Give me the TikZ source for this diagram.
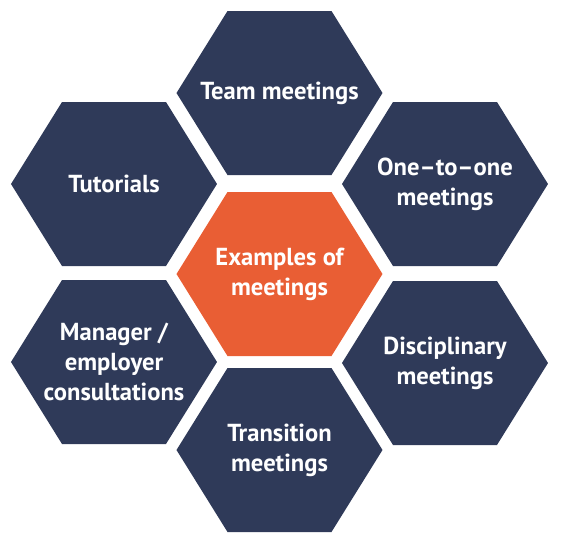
\documentclass[tikz,border=0pt]{standalone}
\usepackage{fontspec}
\setsansfont{PT Sans}
\usepackage{xcolor}
\usepackage{tikz}
\usetikzlibrary{backgrounds}

\definecolor{hexnavy}{RGB}{47,58,89}
\definecolor{hexorange}{RGB}{233,94,52}

\begin{document}
\begin{tikzpicture}[x=0.02cm,y=-0.02cm,
  hexlabel/.style={text=white,align=center,font=\sffamily\bfseries\fontsize{14}{17}\selectfont}]
\useasboundingbox (0,0) rectangle (566,555);
\node[hexlabel] (centre) at (279.5,274) {Examples of\\meetings};
\node[hexlabel] (team) at (279.5,93) {Team meetings};
\node[hexlabel] (tutor) at (114,184) {Tutorials};
\node[hexlabel] (onetoone) at (445,184) {One--to--one\\meetings};
\node[hexlabel] (manager) at (114,362) {Manager /\\employer\\consultations};
\node[hexlabel] (discip) at (445,363) {Disciplinary\\meetings};
\node[hexlabel] (transit) at (279.5,450) {Transition\\meetings};

% hexagons behind the labels
\begin{scope}[on background layer]
\foreach \n/\c in {centre/hexorange, team/hexnavy, tutor/hexnavy, onetoone/hexnavy, manager/hexnavy, discip/hexnavy, transit/hexnavy}
  \fill[\c,shift={(\n)}] (-103,0) -- (-52,-82) -- (52,-82) -- (103,0) -- (52,82) -- (-52,82) -- cycle;
\end{scope}
\end{tikzpicture}
\end{document}
